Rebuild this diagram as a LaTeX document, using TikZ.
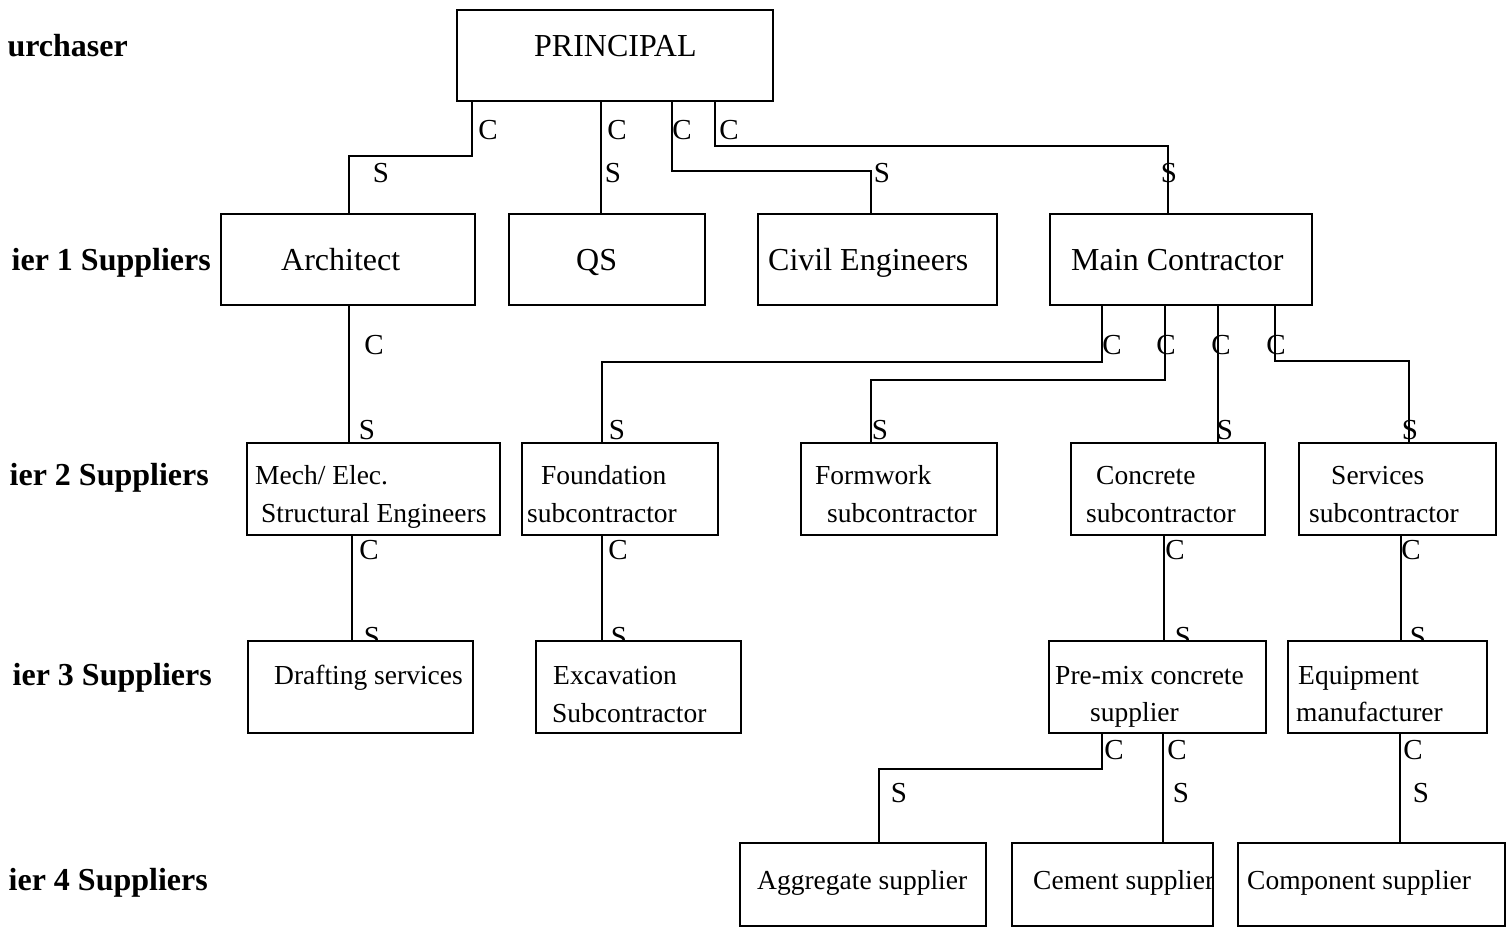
\documentclass[tikz,border=0pt]{standalone}
\usepackage{fontspec}
\setmainfont{Liberation Serif}
\usetikzlibrary{backgrounds}
\begin{document}
\begin{tikzpicture}[x=1pt,y=-1pt,
  box/.style={draw, line width=1.6pt, fill=white, inner sep=0pt, rectangle},
  wire/.style={draw, line width=1.5pt},
  big/.style={inner sep=0pt, anchor=base west, font=\fontsize{32}{36}\selectfont},
  small/.style={inner sep=0pt, anchor=base west, font=\fontsize{27.5}{32}\selectfont},
  tier/.style={inner sep=0pt, anchor=base east, font=\fontsize{32}{36}\selectfont\bfseries},
  cs/.style={inner sep=0pt, anchor=center, font=\fontsize{29}{32}\selectfont}]
\useasboundingbox (0,0) rectangle (1508,927);
\clip (0,0) rectangle (1508,927);

% tier headings
\node[tier] (hp) at (128,56) {urchaser};
\node[tier] (h1) at (211,270) {ier 1 Suppliers};
\node[tier] (h2) at (209,485) {ier 2 Suppliers};
\node[tier] (h3) at (212,685) {ier 3 Suppliers};
\node[tier] (h4) at (208,890) {ier 4 Suppliers};

% boxes
\node[box, minimum width=316pt, minimum height=91pt] (prin) at (615,55.5) {};
\node[box, minimum width=254pt, minimum height=91pt] (arch) at (348,259.5) {};
\node[box, minimum width=196pt, minimum height=91pt] (qs) at (607,259.5) {};
\node[box, minimum width=239pt, minimum height=91pt] (civ) at (877.5,259.5) {};
\node[box, minimum width=262pt, minimum height=91pt] (mc) at (1181,259.5) {};
\node[box, minimum width=253pt, minimum height=92pt] (mech) at (373.5,489) {};
\node[box, minimum width=196pt, minimum height=92pt] (fnd) at (620,489) {};
\node[box, minimum width=196pt, minimum height=92pt] (frm) at (899,489) {};
\node[box, minimum width=194pt, minimum height=92pt] (cnc) at (1168,489) {};
\node[box, minimum width=197pt, minimum height=92pt] (srv) at (1397.5,489) {};
\node[box, minimum width=225pt, minimum height=92pt] (drf) at (360.5,687) {};
\node[box, minimum width=205pt, minimum height=92pt] (exc) at (638.5,687) {};
\node[box, minimum width=217pt, minimum height=92pt] (pmx) at (1157.5,687) {};
\node[box, minimum width=199pt, minimum height=92pt] (eqp) at (1387.5,687) {};
\node[box, minimum width=246pt, minimum height=83pt] (agg) at (863,884.5) {};
\node[box, minimum width=201pt, minimum height=83pt] (cem) at (1112.5,884.5) {};
\node[box, minimum width=267pt, minimum height=83pt] (cmp) at (1371.5,884.5) {};

% box texts
\node[big] (tprin) at (534,56) {PRINCIPAL};
\node[big] (tarch) at (281,270) {Architect};
\node[big] (tqs) at (576,270) {QS};
\node[big] (tciv) at (768,270) {Civil Engineers};
\node[big] (tmc) at (1071,270) {Main Contractor};
\node[small] (tmech1) at (255,484) {Mech/ Elec.};
\node[small] (tmech2) at (261,522) {Structural Engineers};
\node[small] (tfnd1) at (541,484) {Foundation};
\node[small] (tfnd2) at (527,522) {subcontractor};
\node[small] (tfrm1) at (815,484) {Formwork};
\node[small] (tfrm2) at (827,522) {subcontractor};
\node[small] (tcnc1) at (1096,484) {Concrete};
\node[small] (tcnc2) at (1086,522) {subcontractor};
\node[small] (tsrv1) at (1331,484) {Services};
\node[small] (tsrv2) at (1309,522) {subcontractor};
\node[small] (tdrf) at (274,684) {Drafting services};
\node[small] (texc1) at (553,684) {Excavation};
\node[small] (texc2) at (552,722) {Subcontractor};
\node[small] (tpmx1) at (1055,684) {Pre-mix concrete};
\node[small] (tpmx2) at (1090,721) {supplier};
\node[small] (teqp1) at (1298,684) {Equipment};
\node[small] (teqp2) at (1296,721) {manufacturer};
\node[small] (tagg) at (757,889) {Aggregate supplier};
\node[small] (tcem) at (1033,889) {Cement supplier};
\node[small] (tcmp) at (1247,889) {Component supplier};

\begin{pgfonlayer}{background}
% connectors
\draw[wire] ([xshift=16pt]prin.south west) -- ++(0,54) -| ([xshift=129pt]arch.north west);
\draw[wire] ([xshift=145pt]prin.south west) -- ([xshift=93pt]qs.north west);
\draw[wire] ([xshift=216pt]prin.south west) -- ++(0,69) -| ([xshift=114pt]civ.north west);
\draw[wire] ([xshift=259pt]prin.south west) -- ++(0,44) -| ([xshift=119pt]mc.north west);
\draw[wire] ([xshift=129pt]arch.south west) -- ([xshift=103pt]mech.north west);
\draw[wire] ([xshift=53pt]mc.south west) -- ++(0,56) -| ([xshift=81pt]fnd.north west);
\draw[wire] ([xshift=116pt]mc.south west) -- ++(0,74) -| ([xshift=71pt]frm.north west);
\draw[wire] ([xshift=169pt]mc.south west) -- ([xshift=148pt]cnc.north west);
\draw[wire] ([xshift=226pt]mc.south west) -- ++(0,55) -| ([xshift=111pt]srv.north west);
\draw[wire] ([xshift=106pt]mech.south west) -- ([xshift=105pt]drf.north west);
\draw[wire] ([xshift=81pt]fnd.south west) -- ([xshift=67pt]exc.north west);
\draw[wire] ([xshift=94pt]cnc.south west) -- ([xshift=116pt]pmx.north west);
\draw[wire] ([xshift=103pt]srv.south west) -- ([xshift=114pt]eqp.north west);
\draw[wire] ([xshift=54pt]pmx.south west) -- ++(0,35) -| ([xshift=140pt]agg.north west);
\draw[wire] ([xshift=115pt]pmx.south west) -- ([xshift=152pt]cem.north west);
\draw[wire] ([xshift=113pt]eqp.south west) -- ([xshift=163pt]cmp.north west);

% client / supplier marks
\node[cs] (c1) at (488,130) {C};
\node[cs] (s1) at (381,173) {S};
\node[cs] (c2) at (617,130) {C};
\node[cs] (s2) at (613,173) {S};
\node[cs] (c3) at (682,130) {C};
\node[cs] (c4) at (729,130) {C};
\node[cs] (s3) at (882,173) {S};
\node[cs] (s4) at (1169,173) {S};
\node[cs] (c5) at (374,345) {C};
\node[cs] (s5) at (367,430) {S};
\node[cs] (c6) at (1112,345) {C};
\node[cs] (c7) at (1166,345) {C};
\node[cs] (c8) at (1221,345) {C};
\node[cs] (c9) at (1276,345) {C};
\node[cs] (s6) at (617,430) {S};
\node[cs] (s7) at (880,430) {S};
\node[cs] (s8) at (1225,430) {S};
\node[cs] (s9) at (1410,430) {S};
\node[cs] (c10) at (369,550) {C};
\node[cs] (s10) at (372,637) {S};
\node[cs] (c11) at (618,550) {C};
\node[cs] (s11) at (619,637) {S};
\node[cs] (c12) at (1175,550) {C};
\node[cs] (s12) at (1183,637) {S};
\node[cs] (c13) at (1411,550) {C};
\node[cs] (s13) at (1418,637) {S};
\node[cs] (c14) at (1114,750) {C};
\node[cs] (s14) at (899,793) {S};
\node[cs] (c15) at (1177,750) {C};
\node[cs] (s15) at (1181,793) {S};
\node[cs] (c16) at (1413,750) {C};
\node[cs] (s16) at (1421,793) {S};
\end{pgfonlayer}
\end{tikzpicture}
\end{document}
